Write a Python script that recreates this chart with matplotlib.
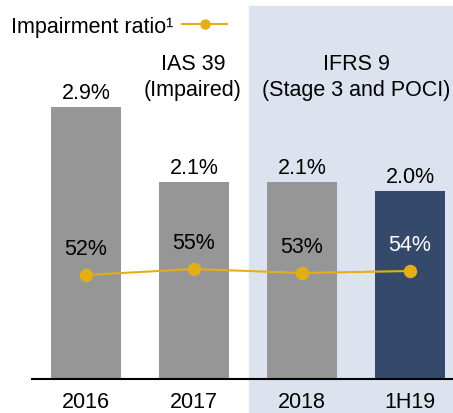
import matplotlib.pyplot as plt
from matplotlib.lines import Line2D
from matplotlib.patches import Rectangle

plt.rcParams['font.family'] = ['Liberation Sans', 'DejaVu Sans']

periods = ['2016', '2017', '2018', '1H19']
npl_ratio = [2.9, 2.1, 2.1, 2.0]
impairment_ratio = [52, 55, 53, 54]
npl_labels = ['2.9%', '2.1%', '2.1%', '2.0%']
imp_labels = ['52%', '55%', '53%', '54%']

GRAY = '#969696'
DARK = '#354a6a'
GOLD = '#e4af16'
SHADE = '#dce3ee'
FS = 15.5

W, H = 453, 414
fig = plt.figure(figsize=(W / 100, H / 100), dpi=100)

# shaded IFRS 9 panel
fig.add_artist(Rectangle((249 / W, 0), (W - 249) / W, (H - 7) / H,
                         transform=fig.transFigure, color=SHADE, zorder=0))

ax = fig.add_axes([32 / W, (H - 380) / H, (W - 32) / W, 380 / H])
ax.patch.set_visible(False)
x = list(range(len(periods)))
colors = [GRAY, GRAY, GRAY, DARK]
ax.bar(x, npl_ratio, width=0.648, color=colors, zorder=2)
ax.set_xlim(-0.5, (W - 86) / 108)
ax.set_ylim(0, 380 / 93.8)
for s in ['top', 'left', 'right']:
    ax.spines[s].set_visible(False)
ax.spines['bottom'].set_linewidth(1.5)
ax.set_yticks([])
ax.set_xticks(x)
ax.set_xticklabels(periods, fontsize=FS)
ax.tick_params(axis='x', length=0, pad=9)

for xi, v, lab in zip(x, npl_ratio, npl_labels):
    ax.annotate(lab, (xi, v), xytext=(0, 6.5), textcoords='offset points',
                ha='center', va='baseline', fontsize=FS)

ax2 = ax.twinx()
ax2.set_ylim(0, 190)
ax2.axis('off')
ax2.plot(x, impairment_ratio, color=GOLD, lw=1.5, marker='o', ms=8.6, zorder=3)
for xi, v, lab in zip(x, impairment_ratio, imp_labels):
    ax2.annotate(lab, (xi, v), xytext=(0, 15), textcoords='offset points',
                 ha='center', va='baseline', fontsize=FS,
                 color='white' if lab == '54%' else 'black')

# section headers
fig.text(193 / W, 1 - 70 / H, 'IAS 39', ha='center', va='baseline', fontsize=FS)
fig.text(193 / W, 1 - 96 / H, '(Impaired)', ha='center', va='baseline', fontsize=FS)
fig.text(356 / W, 1 - 70 / H, 'IFRS 9', ha='center', va='baseline', fontsize=FS)
fig.text(356 / W, 1 - 96 / H, '(Stage 3 and POCI)', ha='center', va='baseline', fontsize=FS)

# legend
fig.text(11 / W, 1 - 33 / H, 'Impairment ratio¹', ha='left', va='baseline', fontsize=FS)
fig.add_artist(Line2D([182 / W, 227 / W], [1 - 25 / H, 1 - 25 / H],
                      transform=fig.transFigure, color=GOLD, lw=1.5))
fig.add_artist(Line2D([205 / W], [1 - 25 / H], transform=fig.transFigure,
                      color=GOLD, marker='o', ms=6.5, lw=0))

fig.savefig('out.png', dpi=100)
